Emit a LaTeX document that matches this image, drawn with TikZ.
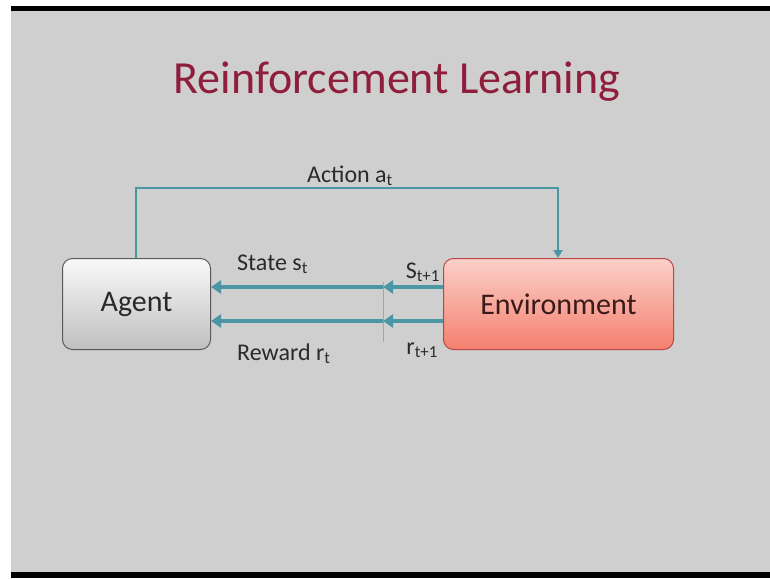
\documentclass[tikz,border=0pt]{standalone}
\usepackage{fontspec}
\setmainfont{Carlito}
\usetikzlibrary{arrows.meta,shadings}
\definecolor{bg}{HTML}{CFCFCF}
\definecolor{titlered}{HTML}{8E1E3C}
\definecolor{teal}{HTML}{4A97A3}
\definecolor{txt}{HTML}{2A2A2A}
\definecolor{envtop}{HTML}{FBD0C8}
\definecolor{envbot}{HTML}{F4806F}
\definecolor{envtxt}{HTML}{3A1A1A}
\tikzset{
  box/.style={draw=#1, line width=1pt, rounded corners=10pt, minimum height=91pt, font=\fontsize{30}{34}\selectfont, text=txt},
  flow/.style={teal, line width=4pt, -{Triangle[length=10pt,width=13pt]}},
  act/.style={teal, line width=2pt, -{Triangle[length=8pt,width=9pt]}},
  lbl/.style={font=\fontsize{24}{26}\selectfont, text=txt, inner sep=0pt},
}
\begin{document}
\begin{tikzpicture}[x=1pt,y=-1pt]
\useasboundingbox (0,0) rectangle (770,578);
\fill[white] (0,0) rectangle (770,578);
\fill[black] (11,6) rectangle (770,11);
\fill[black] (11,572) rectangle (770,578);
\fill[bg] (11,11) rectangle (770,572);
\node[text=titlered, font=\fontsize{46}{52}\selectfont] (title) at (397,82) {Reinforcement Learning};
\node[box=gray!70!black, minimum width=148pt, top color=white!95!gray, bottom color=gray!50, anchor=north west] (agent) at (62,258) {Agent};
\node[box=red!45!gray, minimum width=230pt, top color=envtop, bottom color=envbot, anchor=north west, text=envtxt] (env) at (443,258) {Environment};
\coordinate (atop) at (136,258);
\coordinate (etop) at (558,258);
\coordinate (c1) at (136,188);
\coordinate (c2) at (558,188);
\draw[act] (agent.north -| atop) -- (c1) -- (c2) -- (env.north -| etop);
\node[lbl, anchor=base] (alab) at (350,182) {Action a\textsubscript{t}};
\coordinate (mid) at (383,0);
\draw[gray!70, line width=0.5pt] (383,282) -- (383,342);
\coordinate (sy) at (0,287);
\coordinate (ry) at (0,321);
\draw[flow] (env.west |- sy) -- (mid |- sy);
\draw[flow] (mid |- sy) -- (agent.east |- sy);
\draw[flow] (env.west |- ry) -- (mid |- ry);
\draw[flow] (mid |- ry) -- (agent.east |- ry);
\node[lbl, anchor=base west] (sl) at (237,270) {State s\textsubscript{t}};
\node[lbl, anchor=base west] (rl) at (237,360) {Reward r\textsubscript{t}};
\node[lbl, anchor=base east] (sl2) at (440,278) {S\textsubscript{t+1}};
\node[lbl, anchor=base east] (rl2) at (438,354) {r\textsubscript{t+1}};
\end{tikzpicture}
\end{document}
